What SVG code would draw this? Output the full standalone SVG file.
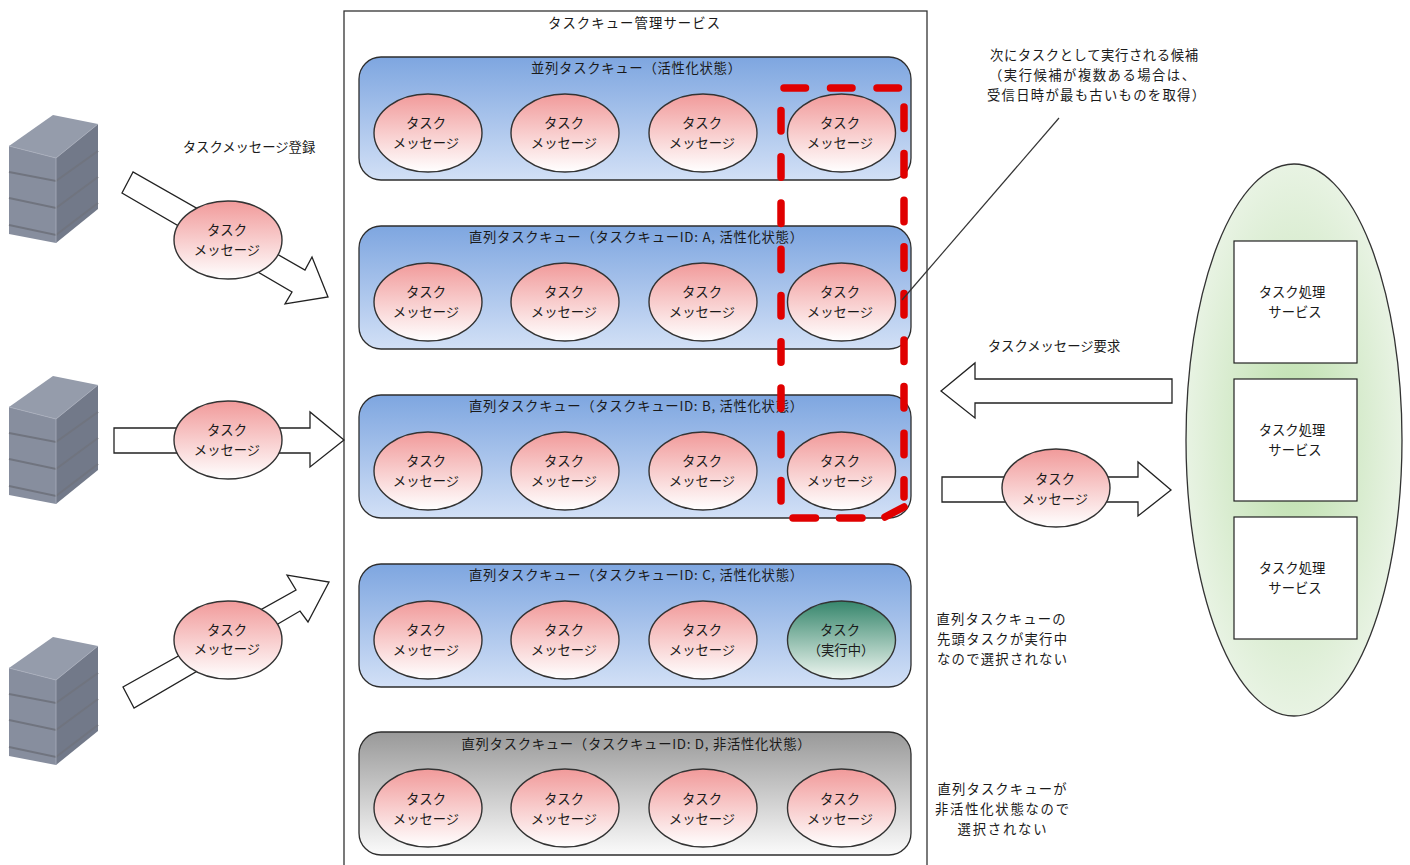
<svg xmlns="http://www.w3.org/2000/svg" xmlns:xlink="http://www.w3.org/1999/xlink" width="1410" height="865" viewBox="0 0 1410 865">
<style>
text{font-family:"Noto Sans CJK JP","Noto Sans CJK SC",sans-serif;font-size:13.33px;fill:#1a1a1a;text-anchor:middle}
.q{stroke:#2e2e2e;stroke-width:1.3}
.m{fill:url(#pink);stroke:#333;stroke-width:1.4}
.arrow{fill:#fff;stroke:#222;stroke-width:1.3;stroke-linejoin:miter}
.box{fill:#fff;stroke:#222;stroke-width:1.2}
.red{fill:none;stroke:#e00000;stroke-width:7.5;stroke-linecap:round}
</style>
<defs>
<linearGradient id="pink" x1="0" y1="0" x2="0" y2="1"><stop offset="0" stop-color="#f19a9a"/><stop offset="1" stop-color="#fff"/></linearGradient>
<linearGradient id="blue" x1="0" y1="0" x2="0" y2="1"><stop offset="0" stop-color="#7ea6e0"/><stop offset="1" stop-color="#d2e0f6"/></linearGradient>
<linearGradient id="gray" x1="0" y1="0" x2="0" y2="1"><stop offset="0" stop-color="#999"/><stop offset="1" stop-color="#fbfbfb"/></linearGradient>
<linearGradient id="teal" x1="0" y1="0" x2="0" y2="1"><stop offset="0" stop-color="#36866c"/><stop offset="1" stop-color="#eef6f0"/></linearGradient>
<radialGradient id="green" cx="0.5" cy="0.5" r="0.5"><stop offset="0" stop-color="#bcdfab"/><stop offset="1" stop-color="#e8f3e3"/></radialGradient>
<g id="server">
<polygon points="9,146 53,115 98,124 56,158" fill="#959cab"/>
<polygon points="9,146 56,158 56,243 9,234" fill="#878e9e"/>
<polygon points="56,158 98,124 98,209 56,243" fill="#727989"/>
<path d="M9,172 L56,181 L98,151 M9,198 L56,208 L98,177 M9,225 L56,235 L98,203" fill="none" stroke="#70747f" stroke-width="2"/>
<path d="M9,146 L56,158 L98,124 M56,158 V243" fill="none" stroke="#a9afbc" stroke-width="0.8"/>
</g>
</defs>
<rect width="1410" height="865" fill="#fff"/>

<g id="server-1"><use xlink:href="#server" href="#server"/></g>
<g id="server-2"><use xlink:href="#server" href="#server" y="261"/></g>
<g id="server-3"><use xlink:href="#server" href="#server" y="522"/></g>

<g id="manager">
<rect x="344" y="11" width="583" height="880" fill="#fff" stroke="#333" stroke-width="1.3"/>
<text x="634" y="28" textLength="172" lengthAdjust="spacing">タスクキュー管理サービス</text>
</g>

<g id="workers-pool"><ellipse cx="1294" cy="440" rx="108" ry="276" fill="url(#green)" stroke="#333" stroke-width="1.3"/></g>
<g id="worker-1"><rect class="box" x="1234" y="241" width="123" height="122"/><text x="1292" y="297">タスク処理</text><text x="1295" y="317">サービス</text></g>
<g id="worker-2"><rect class="box" x="1234" y="379" width="123" height="122"/><text x="1292" y="435">タスク処理</text><text x="1295" y="455">サービス</text></g>
<g id="worker-3"><rect class="box" x="1234" y="517" width="123" height="122"/><text x="1292" y="573">タスク処理</text><text x="1295" y="593">サービス</text></g>

<g id="connectors">
<polygon class="arrow" points="133,172 122,193 292,292 285,304 328,297 312,257 305,270"/>
<polygon class="arrow" points="114,428 310,428 310,412 344,440 310,467 310,453 114,453"/>
<polygon class="arrow" points="134,708 123,687 296,590 287,575 329,582 308,622 300,611"/>
<polygon class="arrow" points="941,391 975,363 975,379 1172,379 1172,403 975,403 975,418"/>
<polygon class="arrow" points="942,477 1138,477 1138,462 1171,490 1138,516 1138,502 942,502"/>
</g>

<g id="queue-1"><rect class="q" x="359" y="57" width="552" height="123" rx="22" fill="url(#blue)"/><text x="636" y="73" textLength="210" lengthAdjust="spacing">並列タスクキュー（活性化状態）</text></g>
<g id="queue-2"><rect class="q" x="359" y="226" width="552" height="123" rx="22" fill="url(#blue)"/><text x="636" y="242" textLength="334" lengthAdjust="spacing">直列タスクキュー（タスクキューID: A, 活性化状態）</text></g>
<g id="queue-3"><rect class="q" x="359" y="395" width="552" height="123" rx="22" fill="url(#blue)"/><text x="636" y="411" textLength="334" lengthAdjust="spacing">直列タスクキュー（タスクキューID: B, 活性化状態）</text></g>
<g id="queue-4"><rect class="q" x="359" y="564" width="552" height="123" rx="22" fill="url(#blue)"/><text x="636" y="580" textLength="334" lengthAdjust="spacing">直列タスクキュー（タスクキューID: C, 活性化状態）</text></g>
<g id="queue-5"><rect class="q" x="359" y="732" width="552" height="123" rx="22" fill="url(#gray)"/><text x="636" y="749" textLength="349" lengthAdjust="spacing">直列タスクキュー（タスクキューID: D, 非活性化状態）</text></g>

<g id="m1-1"><ellipse class="m" cx="428" cy="133" rx="54" ry="39"/><text x="426" y="128">タスク</text><text x="426" y="148">メッセージ</text></g>
<g id="m1-2"><ellipse class="m" cx="565" cy="133" rx="54" ry="39"/><text x="564" y="128">タスク</text><text x="564" y="148">メッセージ</text></g>
<g id="m1-3"><ellipse class="m" cx="703" cy="133" rx="54" ry="39"/><text x="702" y="128">タスク</text><text x="702" y="148">メッセージ</text></g>
<g id="m1-4"><ellipse class="m" cx="841.5" cy="133" rx="54" ry="39"/><text x="840" y="128">タスク</text><text x="840" y="148">メッセージ</text></g>
<g id="m2-1"><ellipse class="m" cx="428" cy="302" rx="54" ry="39"/><text x="426" y="297">タスク</text><text x="426" y="317">メッセージ</text></g>
<g id="m2-2"><ellipse class="m" cx="565" cy="302" rx="54" ry="39"/><text x="564" y="297">タスク</text><text x="564" y="317">メッセージ</text></g>
<g id="m2-3"><ellipse class="m" cx="703" cy="302" rx="54" ry="39"/><text x="702" y="297">タスク</text><text x="702" y="317">メッセージ</text></g>
<g id="m2-4"><ellipse class="m" cx="841.5" cy="302" rx="54" ry="39"/><text x="840" y="297">タスク</text><text x="840" y="317">メッセージ</text></g>
<g id="m3-1"><ellipse class="m" cx="428" cy="471" rx="54" ry="39"/><text x="426" y="466">タスク</text><text x="426" y="486">メッセージ</text></g>
<g id="m3-2"><ellipse class="m" cx="565" cy="471" rx="54" ry="39"/><text x="564" y="466">タスク</text><text x="564" y="486">メッセージ</text></g>
<g id="m3-3"><ellipse class="m" cx="703" cy="471" rx="54" ry="39"/><text x="702" y="466">タスク</text><text x="702" y="486">メッセージ</text></g>
<g id="m3-4"><ellipse class="m" cx="841.5" cy="471" rx="54" ry="39"/><text x="840" y="466">タスク</text><text x="840" y="486">メッセージ</text></g>
<g id="m4-1"><ellipse class="m" cx="428" cy="640" rx="54" ry="39"/><text x="426" y="635">タスク</text><text x="426" y="655">メッセージ</text></g>
<g id="m4-2"><ellipse class="m" cx="565" cy="640" rx="54" ry="39"/><text x="564" y="635">タスク</text><text x="564" y="655">メッセージ</text></g>
<g id="m4-3"><ellipse class="m" cx="703" cy="640" rx="54" ry="39"/><text x="702" y="635">タスク</text><text x="702" y="655">メッセージ</text></g>
<g id="m4-4"><ellipse cx="841.5" cy="640" rx="54" ry="39" fill="url(#teal)" stroke="#333" stroke-width="1.4"/><text x="840" y="635">タスク</text><text x="841" y="655">（実行中）</text></g>
<g id="m5-1"><ellipse class="m" cx="428" cy="808" rx="54" ry="39"/><text x="426" y="804">タスク</text><text x="426" y="824">メッセージ</text></g>
<g id="m5-2"><ellipse class="m" cx="565" cy="808" rx="54" ry="39"/><text x="564" y="804">タスク</text><text x="564" y="824">メッセージ</text></g>
<g id="m5-3"><ellipse class="m" cx="703" cy="808" rx="54" ry="39"/><text x="702" y="804">タスク</text><text x="702" y="824">メッセージ</text></g>
<g id="m5-4"><ellipse class="m" cx="841.5" cy="808" rx="54" ry="39"/><text x="840" y="804">タスク</text><text x="840" y="824">メッセージ</text></g>

<g id="msg-in-1"><ellipse class="m" cx="228" cy="240" rx="54" ry="39"/><text x="227" y="235">タスク</text><text x="227" y="255">メッセージ</text></g>
<g id="msg-in-2"><ellipse class="m" cx="228" cy="440" rx="54" ry="39"/><text x="227" y="435">タスク</text><text x="227" y="455">メッセージ</text></g>
<g id="msg-in-3"><ellipse class="m" cx="228" cy="640" rx="54" ry="39"/><text x="227" y="635">タスク</text><text x="227" y="654">メッセージ</text></g>
<g id="msg-out"><ellipse class="m" cx="1056" cy="488" rx="54" ry="39"/><text x="1055" y="484">タスク</text><text x="1055" y="504">メッセージ</text></g>

<g id="candidates">
<path class="red" stroke-dasharray="21.5 25" d="M784 88 H899"/>
<path class="red" stroke-dasharray="21.5 25.1" d="M904 107 V497"/>
<path class="red" d="M904 507 L885 517"/>
<path class="red" stroke-dasharray="22.5 24" d="M862 518 H790"/>
<path class="red" stroke-dasharray="20.5 25.75" d="M781 501 V108"/>
</g>
<path id="leader" d="M1059 118 L902 300" fill="none" stroke="#333" stroke-width="1.2"/>

<g id="labels">
<text x="249" y="152">タスクメッセージ登録</text>
<text x="1054" y="351">タスクメッセージ要求</text>
<text x="1094" y="60" textLength="208" lengthAdjust="spacing">次にタスクとして実行される候補</text>
<text x="1092" y="80" textLength="206" lengthAdjust="spacing">（実行候補が複数ある場合は、</text>
<text x="1096" y="100" textLength="218" lengthAdjust="spacing">受信日時が最も古いものを取得）</text>
<text x="1001" y="624" textLength="129" lengthAdjust="spacing">直列タスクキューの</text>
<text x="1002" y="644" textLength="130" lengthAdjust="spacing">先頭タスクが実行中</text>
<text x="1002" y="664" textLength="130" lengthAdjust="spacing">なので選択されない</text>
<text x="1002" y="794" textLength="129" lengthAdjust="spacing">直列タスクキューが</text>
<text x="1002" y="814" textLength="134" lengthAdjust="spacing">非活性化状態なので</text>
<text x="1002" y="834" textLength="89" lengthAdjust="spacing">選択されない</text>
</g>
</svg>
